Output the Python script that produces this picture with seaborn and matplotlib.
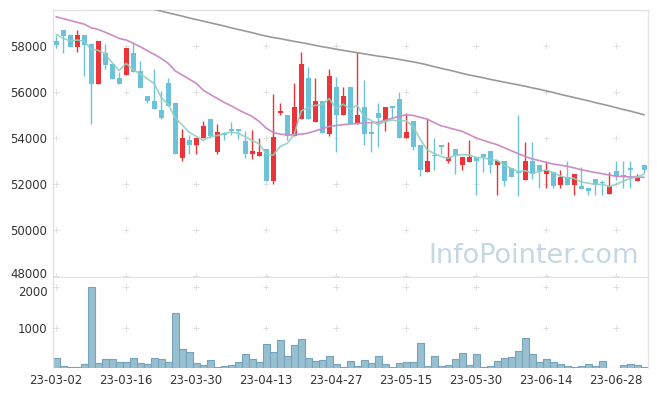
import numpy as np
import pandas as pd
import seaborn as sns
import matplotlib
matplotlib.use("Agg")
import matplotlib.pyplot as plt
from matplotlib.transforms import ScaledTranslation

# daily candles, 2023-03-02 .. 2023-07-04 (trading days)
opens = [58230, 58690, 58480, 57970, 58480, 58090, 56350, 57680, 57220, 56600,
         56740, 57680, 56920, 55830, 55620, 55220, 56380, 55510, 53130, 53920,
         53680, 54000, 54840, 53380, 54200, 54400, 54400, 53850, 53320, 53200,
         53530, 52120, 55080, 55010, 54100, 54820, 56630, 54680, 55620, 54190,
         56210, 54980, 56210, 54600, 55330, 54210, 55080, 54760, 55400, 55700,
         54000, 54720, 53680, 52510, 53250, 53710, 52990, 53530, 52810, 52960,
         53160, 53320, 53420, 52810, 53010, 52700, 52500, 52190, 53010, 52840,
         52440, 52510, 51970, 52300, 51970, 51930, 51830, 52220, 52080, 51580,
         52550, 52380, 52700, 52120, 52840]
highs = [58480, 58690, 58500, 58690, 58480, 58090, 58220, 58070, 57220, 56890,
         57900, 58190, 57360, 55830, 56990, 56060, 56600, 55510, 54390, 54140,
         54000, 54720, 54840, 54600, 54240, 54680, 54400, 54290, 54330, 54000,
         53530, 55900, 55520, 55010, 56380, 57750, 57070, 56600, 55620, 57000,
         56670, 56210, 56210, 57750, 56530, 54680, 55510, 55330, 55400, 55980,
         55080, 54720, 53680, 54890, 54000, 53710, 53820, 53530, 53160, 53930,
         53160, 53320, 53420, 53010, 53010, 52700, 55010, 53820, 53820, 52840,
         53010, 52510, 52620, 53010, 52450, 52730, 51830, 52220, 52190, 52510,
         52985, 52985, 52985, 52450, 52840]
lows = [57900, 57680, 57950, 57750, 56700, 54620, 56350, 56990, 56570, 56350,
        56740, 56890, 56180, 55520, 55280, 54820, 55370, 53300, 52990, 53300,
        53300, 54000, 54000, 53300, 53920, 54140, 53960, 53130, 53080, 53200,
        52120, 52020, 55010, 53920, 54100, 54820, 54820, 54680, 54210, 54100,
        53390, 54980, 54600, 54600, 53680, 53390, 53610, 54290, 54860, 54000,
        54000, 53500, 52330, 52510, 52630, 53300, 52910, 52450, 52620, 52960,
        51530, 52510, 52480, 51530, 51930, 52290, 51460, 52190, 52230, 51830,
        51830, 51830, 51830, 51970, 51540, 51800, 51540, 51540, 51540, 51580,
        52190, 51830, 51830, 52120, 52480]
closes = [58060, 58450, 57970, 58480, 58040, 56350, 58220, 57180, 56570, 56350,
          57900, 56890, 56180, 55590, 55280, 54890, 55370, 53300, 54000, 53680,
          54000, 54530, 54070, 54240, 54150, 54290, 54290, 53300, 53440, 53390,
          52120, 54030, 55180, 54100, 55330, 57220, 54820, 55620, 54210, 56700,
          54980, 55830, 54600, 55010, 54190, 54190, 54890, 55330, 55300, 54000,
          54240, 53590, 52600, 53010, 53200, 53590, 53160, 53270, 53160, 53160,
          52990, 53180, 52810, 53010, 52120, 52290, 52470, 53010, 52450, 52510,
          52620, 51900, 52300, 51970, 52450, 51800, 51690, 51970, 52050, 51900,
          52330, 52340, 52600, 52300, 52600]
volume = [240, 40, 15, 15, 90, 2010, 115, 215, 215, 140,
          140, 240, 115, 90, 240, 215, 140, 1365, 465, 390,
          115, 65, 190, 15, 40, 65, 140, 340, 215, 140,
          590, 390, 690, 290, 565, 715, 240, 165, 190, 290,
          90, 15, 165, 40, 190, 115, 290, 90, 15, 115,
          140, 140, 615, 40, 290, 40, 65, 215, 365, 65,
          340, 15, 40, 165, 240, 265, 415, 740, 340, 140,
          215, 140, 90, 40, 15, 40, 90, 40, 165, 5,
          5, 65, 90, 65, 15]

# first MA5 points need closes before the window
ma5_head = [58510, 58330, 58230, 58260]
ma20 = [59270, 59190, 59110, 59030, 58950, 58790, 58720, 58600, 58470, 58330,
        58260, 58120, 57970, 57800, 57640, 57460, 57250, 56920, 56740, 56560,
        56380, 56080, 55900, 55720, 55550, 55400, 55230, 55080, 54940, 54720,
        54430, 54240, 54170, 54140, 54140, 54170, 54210, 54310, 54400, 54500,
        54540, 54580, 54610, 54630, 54650, 54670, 54680, 54770, 54860, 54940,
        55010, 54980, 54900, 54820, 54670, 54530, 54450, 54370, 54290, 54150,
        54000, 53900, 53800, 53710, 53580, 53450, 53320, 53200, 53090, 53020,
        52940, 52870, 52820, 52770, 52700, 52620, 52560, 52500, 52450, 52390,
        52340, 52320, 52310, 52300, 52290]
ma_long = [np.nan] * 13 + [
    59660, 59590, 59520, 59440, 59370, 59300, 59220, 59150, 59080, 59010,
    58940, 58870, 58790, 58720, 58650, 58580, 58500, 58430, 58370, 58320,
    58260, 58200, 58150, 58090, 58030, 57970, 57920, 57860, 57810, 57760,
    57710, 57660, 57610, 57560, 57520, 57470, 57420, 57360, 57310, 57250,
    57180, 57100, 57030, 56960, 56890, 56810, 56740, 56680, 56620, 56550,
    56490, 56430, 56370, 56310, 56250, 56180, 56120, 56050, 55980, 55900,
    55830, 55760, 55690, 55620, 55540, 55470, 55400, 55320, 55240, 55170,
    55090, 55010]

tick_labels = ["23-03-02", "23-03-16", "23-03-30", "23-04-13", "23-04-27",
               "23-05-15", "23-05-30", "23-06-14", "23-06-28"]

RED = "#ec3339"
BLUE = "#6cc2d8"


def main():
    sns.set_theme(style="white")
    plt.rcParams["font.family"] = ["DejaVu Sans"]

    df = pd.DataFrame({"open": opens, "high": highs, "low": lows,
                       "close": closes, "volume": volume,
                       "ma20": ma20, "ma_long": ma_long})
    df["idx"] = np.arange(len(df))
    ma5 = df["close"].rolling(5).mean()
    ma5.iloc[:len(ma5_head)] = ma5_head
    df["ma5"] = ma5

    fig = plt.figure(figsize=(6.57, 3.96), dpi=100)
    ax = fig.add_axes([53 / 657, 1 - 277 / 396, 595 / 657, 267 / 396])
    axv = fig.add_axes([53 / 657, 1 - 368 / 396, 595 / 657, 90 / 396], sharex=ax)

    up = df["close"] >= df["open"]
    colors = np.where(up, RED, BLUE)
    body_lo = df[["open", "close"]].min(axis=1)
    body_h = (df["close"] - df["open"]).abs().clip(lower=50)

    ax.vlines(df["idx"], df["low"], df["high"], colors=colors, linewidth=1, zorder=2)
    ax.bar(df["idx"], body_h, bottom=body_lo, width=0.72, color=colors,
           linewidth=0, zorder=3)

    sns.lineplot(data=df, x="idx", y="ma_long", ax=ax, color="#9a9a9a",
                 linewidth=1.2, zorder=4)
    sns.lineplot(data=df, x="idx", y="ma20", ax=ax, color="#cc8cc6",
                 linewidth=1.2, zorder=4)
    sns.lineplot(data=df, x="idx", y="ma5", ax=ax, color="#8fd0bf",
                 linewidth=1.2, alpha=0.9, zorder=4)

    axv.bar(df["idx"], df["volume"], width=1.0, color="#97bfd0",
            edgecolor="#74a3bb", linewidth=0.8, zorder=2)

    xticks = list(range(0, len(df), 10))
    yticks = list(range(48000, 58001, 2000))
    vticks = [1000, 2000]

    ax.set_xlim(-0.45, 84.55)
    ax.set_ylim(47957, 59565)
    axv.set_ylim(0, 2225)

    # little "+" marks where grid lines would cross
    gx, gy = np.meshgrid(xticks, yticks)
    ax.scatter(gx.ravel(), gy.ravel(), marker="+", s=14, color="#e0e0e0",
               linewidths=0.7, zorder=1)
    gx, gy = np.meshgrid(xticks, vticks)
    axv.scatter(gx.ravel(), gy.ravel(), marker="+", s=14, color="#e0e0e0",
                linewidths=0.7, zorder=1)

    ax.set_yticks(yticks)
    ax.set_yticklabels([str(v) for v in yticks])
    axv.set_yticks(vticks)
    axv.set_yticklabels([str(v) for v in vticks])
    axv.set_xticks(xticks)
    axv.set_xticklabels(tick_labels)
    ax.tick_params(axis="x", labelbottom=False, length=0)

    for a in (ax, axv):
        a.set_xlabel("")
        a.set_ylabel("")
        a.tick_params(axis="both", length=0, labelsize=8.5, labelcolor="#333333",
                      pad=4)
        for s in a.spines.values():
            s.set_color("#e2e2e2")
            s.set_linewidth(1)
    axv.spines["bottom"].set_visible(False)
    axv.spines["top"].set_visible(False)

    # the 48000 and 2000 labels sit right on top of each other; nudge apart
    fig.canvas.draw()
    ax.get_yticklabels()[0].set_transform(
        ax.get_yticklabels()[0].get_transform()
        + ScaledTranslation(0, 2.5 / 72, fig.dpi_scale_trans))
    axv.get_yticklabels()[-1].set_transform(
        axv.get_yticklabels()[-1].get_transform()
        + ScaledTranslation(0, -2.5 / 72, fig.dpi_scale_trans))

    ax.text(0.985, 0.08, "InfoPointer.com", transform=ax.transAxes,
            ha="right", va="center", fontsize=19.5, color="#c6d7e4", zorder=0)

    fig.savefig("out.png", dpi=100)
    print("saved out.png")


if __name__ == "__main__":
    main()
